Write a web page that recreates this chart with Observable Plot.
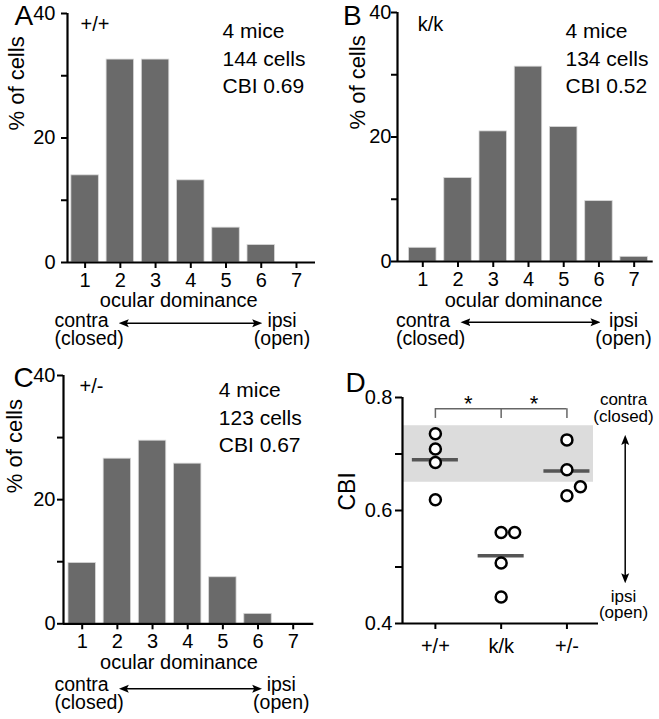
<!DOCTYPE html>
<html><head><meta charset="utf-8">
<script src="https://cdn.jsdelivr.net/npm/d3@7"></script>
<script src="https://cdn.jsdelivr.net/npm/@observablehq/plot@0.6"></script>
<style>
body{margin:0;background:#fff;}
#fig{position:relative;width:659px;height:719px;background:#fff;overflow:hidden;}
.panel{position:absolute;}
.panel svg{display:block;overflow:visible;}
.panel g[aria-label$="tick label"], .panel g[aria-label$="tick label"] text{font-size:20px !important;}
</style></head><body><div id="fig"></div>
<script>
// ---------- data ----------
const odBins = [1, 2, 3, 4, 5, 6, 7];
const odLabels = ["1", "2", "3", "4", "5", "6", "7"];
const pctWT  = [14.0, 32.6, 32.6, 13.2, 5.6, 2.8, 0];
const pctKK  = [2.2, 13.4, 20.9, 31.3, 21.6, 9.7, 0.75];
const pctHet = [9.8, 26.6, 29.5, 25.8, 7.5, 1.6, 0];
const pctTicks = [0, 10, 20, 30, 40];

const genotypes = ["+/+", "k/k", "+/-"];
const miceCounts = [4, 4, 4];
const cellCounts = [144, 134, 123];
const cbiMeans = [0.69, 0.52, 0.67];
const cbiWT  = [0.736, 0.709, 0.685, 0.619];
const cbiKK  = [0.561, 0.561, 0.507, 0.447];
const cbiHet = [0.725, 0.672, 0.642, 0.626];
const cbiTicks = [0.4, 0.5, 0.6, 0.7, 0.8];
const cbiBand = [0.65, 0.75];

const FONT = '"Liberation Sans", Arial, Helvetica, sans-serif';

function fillMarkers(svg) {
  svg.querySelectorAll("marker").forEach(m => {
    const c = m.getAttribute("stroke") || "#000";
    m.setAttribute("fill", c);
    m.setAttribute("stroke", "none");
    m.querySelectorAll("path").forEach(p => p.setAttribute("d", "M-5,-4L5,0L-5,4L-3,0Z"));
  });
  return svg;
}

function histogram(p) {
  const data = odBins.map((od, i) => ({od, pct: p.values[i]})).filter(d => d.pct > 0);
  const [xl] = p.xDomain;
  const info = `${miceCounts[p.idx]} mice\n${cellCounts[p.idx]} cells\nCBI ${cbiMeans[p.idx].toFixed(2)}`;
  const svg = Plot.plot({
    width: p.width, height: p.height,
    marginLeft: p.ml, marginRight: p.mr, marginTop: p.mt, marginBottom: p.mb,
    style: {fontFamily: FONT, fontSize: "20px", color: "#000", background: "transparent", overflow: "visible"},
    x: {type: "linear", domain: p.xDomain, axis: null},
    y: {domain: [0, 40], axis: null},
    marks: [
      Plot.rectY(data, {x1: d => d.od - 0.39, x2: d => d.od + 0.39, y: "pct", fill: "#6a6a6a", stroke: "#d8d8d8", strokeWidth: 0.8}),
      Plot.ruleY([0], {strokeWidth: 2.2}),
      Plot.ruleX([xl], {y1: 0, y2: 40, strokeWidth: 2.2}),
      Plot.axisY({ticks: pctTicks, tickFormat: d => d % 20 === 0 ? String(d) : "", tickSize: 6, tickPadding: p.yPad, strokeWidth: 2, label: null, fontSize: 20}),
      Plot.axisX({ticks: odBins, tickFormat: d => odLabels[odBins.indexOf(d)], tickSize: 6, tickPadding: 4, strokeWidth: 2, label: null, fontSize: 20}),
      Plot.text([p.letter], {frameAnchor: "top-left", dx: p.letterDx, dy: p.letterDy, lineAnchor: "middle", fontSize: 28}),
      Plot.text([genotypes[p.idx]], {frameAnchor: "top-left", dx: p.genoDx, dy: p.genoDy, textAnchor: "start", lineAnchor: "top", fontSize: 20}),
      Plot.text([info], {frameAnchor: "top-left", dx: p.infoDx, dy: p.infoDy, textAnchor: "start", lineAnchor: "top", lineHeight: 1.31, fontSize: 21}),
      Plot.text(["% of cells"], {frameAnchor: "left", rotate: -90, dx: p.ylabDx, dy: p.ylabDy, fontSize: 22}),
      Plot.text(["ocular dominance"], {frameAnchor: "bottom", dx: p.xlabDx, dy: p.xlabDy, lineAnchor: "middle", fontSize: 20}),
      Plot.text(["contra\n(closed)"], {frameAnchor: "bottom-left", dx: p.contraDx, dy: p.annDy, textAnchor: "start", lineAnchor: "top", lineHeight: 0.95, fontSize: 19.5}),
      Plot.text(["ipsi\n(open)"], {frameAnchor: "bottom-left", dx: p.ipsiDx, dy: p.annDy, textAnchor: "middle", lineAnchor: "top", lineHeight: 0.95, fontSize: 19.5}),
      Plot.link([0], {x1: p.arrow[0], x2: p.arrow[1], y1: p.arrow[2], y2: p.arrow[2], strokeWidth: 1.5, markerStart: "arrow-reverse", markerEnd: "arrow"})
    ]
  });
  return fillMarkers(svg);
}

// layout for D
const D = {width: 329, height: 359, ml: 72, mr: 61, mt: 37, mb: 96, xDomain: [0.5, 3.48], yDomain: [0.4, 0.8]};
const dxPerUnit = (D.width - D.ml - D.mr) / (D.xDomain[1] - D.xDomain[0]);
const dyPerUnit = (D.height - D.mt - D.mb) / (D.yDomain[1] - D.yDomain[0]);
const dotR = 5.5;

// simple collision avoidance (like a beeswarm) within each genotype
function dodge(values) {
  const minPx = 2 * dotR + 2.5;
  const step = minPx / dxPerUnit;
  const order = values.map((v, i) => i).sort((a, b) => values[a] - values[b]);
  const placed = [];
  const offs = new Array(values.length).fill(0);
  for (const i of order) {
    const v = values[i];
    for (const c of [0, 1, -1, 2, -2]) {
      if (!placed.some(q => q.c === c && Math.abs(q.v - v) * dyPerUnit < minPx)) {
        placed.push({v, c});
        offs[i] = c * step;
        break;
      }
    }
  }
  return offs;
}

function cbiPanel() {
  const groups = [cbiWT, cbiKK, cbiHet];
  const dots = groups.flatMap((vals, g) => {
    const offs = dodge(vals);
    return vals.map((v, i) => ({g, v, off: offs[i]}));
  });
  const medians = cbiMeans.map((v, g) => ({g, v}));
  const svg = Plot.plot({
    width: D.width, height: D.height,
    marginLeft: D.ml, marginRight: D.mr, marginTop: D.mt, marginBottom: D.mb,
    style: {fontFamily: FONT, fontSize: "20px", color: "#000", background: "transparent", overflow: "visible"},
    x: {type: "linear", domain: D.xDomain, axis: null},
    y: {domain: D.yDomain, axis: null},
    marks: [
      Plot.rectY([cbiBand], {y1: d => d[0], y2: d => d[1], fill: "#dcdcdc", insetRight: 5}),
      Plot.ruleY([D.yDomain[0]], {strokeWidth: 2.2}),
      Plot.ruleX([D.xDomain[0]], {y1: D.yDomain[0], y2: D.yDomain[1], strokeWidth: 2.2}),
      Plot.axisY({ticks: cbiTicks, tickFormat: d => Math.round(d * 10) % 2 === 0 ? d.toFixed(1) : "", tickSize: 7, tickPadding: 3, strokeWidth: 2, label: null, fontSize: 20}),
      Plot.axisX({ticks: [1, 2, 3], tickFormat: d => genotypes[d - 1], tickSize: 6, tickPadding: 9, strokeWidth: 2, label: null, fontSize: 20}),
      // significance bracket
      Plot.ruleY([0.78], {x1: 1, x2: genotypes.length, stroke: "#666", strokeWidth: 1.5}),
      Plot.ruleX(genotypes.map((g, i) => i + 1), {y1: 0.763, y2: 0.78, stroke: "#666", strokeWidth: 1.5}),
      Plot.text(["*", "*"], {x: [1.5, 2.5], y: [0.788, 0.788], lineAnchor: "middle", fontSize: 22}),
      Plot.ruleY(medians, {x1: d => d.g + 1 - 0.35, x2: d => d.g + 1 + 0.35, y: "v", stroke: "#555", strokeWidth: 3.5}),
      Plot.dot(dots, {x: d => d.g + 1 + d.off, y: "v", r: dotR, stroke: "#000", strokeWidth: 2.5, fill: "#fff"}),
      Plot.text(["D"], {frameAnchor: "top-left", dx: -57, dy: -14.3, lineAnchor: "middle", fontSize: 28}),
      Plot.text(["CBI"], {frameAnchor: "left", rotate: -90, dx: -55, dy: 0, fontSize: 23}),
      Plot.text(["contra\n(closed)"], {frameAnchor: "top-right", dx: 25, dy: -4.2, textAnchor: "middle", lineAnchor: "top", lineHeight: 0.98, fontSize: 17}),
      Plot.text(["ipsi\n(open)"], {frameAnchor: "bottom-right", dx: 25, dy: -32.8, textAnchor: "middle", lineAnchor: "top", lineHeight: 0.95, fontSize: 17}),
      Plot.link([0], {x1: 3.886, x2: 3.886, y1: 0.725, y2: 0.48, strokeWidth: 1.5, markerStart: "arrow-reverse", markerEnd: "arrow"})
    ]
  });
  return fillMarkers(svg);
}

const fig = document.getElementById("fig");
function place(svg, left, top) {
  const div = document.createElement("div");
  div.className = "panel";
  div.style.left = left + "px";
  div.style.top = top + "px";
  div.appendChild(svg);
  fig.appendChild(div);
}

place(histogram({
  idx: 0, letter: "A", values: pctWT, width: 330, height: 360, ml: 67, mr: 15, mt: 13, mb: 98,
  xDomain: [0.5, 7.54], yPad: 6,
  letterDx: -53, letterDy: 3, genoDx: 13, genoDy: 3.7, infoDx: 155, infoDy: 5,
  ylabDx: -51, ylabDy: -7.5, xlabDx: -12.7, xlabDy: 37.6,
  contraDx: -13, ipsiDx: 214.5, annDy: 51, arrow: [2.098, 5.885, -9.75]
}), 0, 0);

place(histogram({
  idx: 1, letter: "B", values: pctKK, width: 329, height: 360, ml: 67, mr: 6.3, mt: 12, mb: 99,
  xDomain: [0.282, 7.54], yPad: 0,
  letterDx: -54.5, letterDy: 3.5, genoDx: 20.3, genoDy: 4, infoDx: 168, infoDy: 6.3,
  ylabDx: -39.5, ylabDy: -7.5, xlabDx: -1.7, xlabDy: 38.6,
  contraDx: -1.5, ipsiDx: 226, annDy: 52, arrow: [2.212, 5.902, -9.75]
}), 330, 0);

place(histogram({
  idx: 2, letter: "C", values: pctHet, width: 330, height: 359, ml: 63, mr: 16.7, mt: 15, mb: 95.7,
  xDomain: [0.468, 7.586], yPad: 2,
  letterDx: -50, letterDy: 2.5, genoDx: 16, genoDy: 3, infoDx: 155.3, infoDy: 2.3,
  ylabDx: -49, ylabDy: -6.5, xlabDx: -9.7, xlabDy: 38.6,
  contraDx: -9, ipsiDx: 217.8, annDy: 54, arrow: [2.183, 5.976, -10.47]
}), 0, 360);

place(cbiPanel(), 330, 360);
</script>
</body></html>
